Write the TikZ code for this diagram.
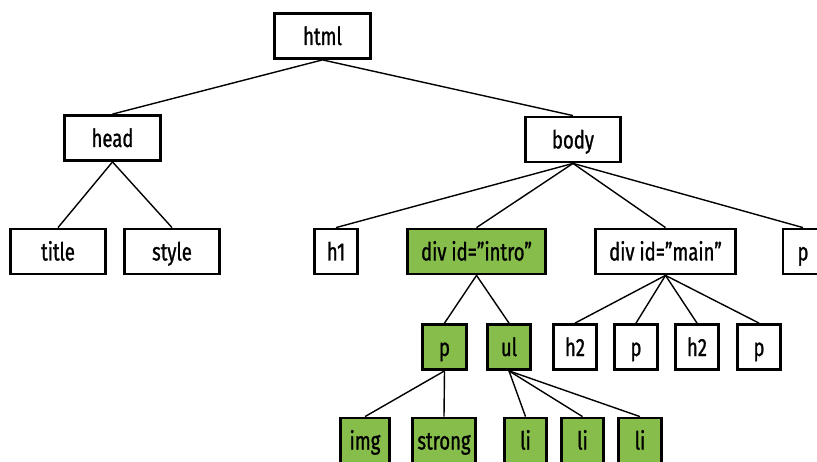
\documentclass[tikz,border=0pt]{standalone}
\usepackage{fontspec}
\setmainfont{Fira Sans}[FakeStretch=0.74, FakeBold=1]
\definecolor{leafgreen}{RGB}{134,189,75}
\begin{document}
\begin{tikzpicture}[x=1pt,y=-1pt,
  box/.style={draw=black, line width=2.8pt, fill=white, inner sep=0pt,
    minimum height=45pt, text height=19pt, text depth=1pt,
    font=\fontsize{25}{28}\selectfont},
  gbox/.style={box, fill=leafgreen},
  link/.style={line width=1.4pt}]
\useasboundingbox (0,0) rectangle (817,462);
\clip (0,0) rectangle (817,462);
\node[box, minimum width=96pt] (html) at (322.5,36) {html};
\node[box, minimum width=96pt] (head) at (112.5,138) {head};
\node[box, minimum width=95pt] (title) at (58,251.5) {title};
\node[box, minimum width=95pt] (style) at (172,251.5) {style};
\node[box, minimum width=95pt] (body) at (573,139.5) {body};
\node[box, minimum width=43pt] (h1) at (336,251.5) {h1};
\node[gbox, minimum width=138pt] (intro) at (476.5,251.5) {div id="intro"};
\node[box, minimum width=140pt] (main) at (665.5,251.5) {div id="main"};
\node[box, minimum width=40pt] (pr) at (803,251.5) {p};
\node[gbox, minimum width=44pt] (pg) at (444.5,347) {p};
\node[gbox, minimum width=43pt] (ul) at (509,347) {ul};
\node[box, minimum width=43pt] (h2a) at (575,347) {h2};
\node[box, minimum width=43pt] (pa) at (636,347) {p};
\node[box, minimum width=43pt] (h2b) at (697,347) {h2};
\node[box, minimum width=43pt] (pb) at (759,347) {p};
\node[gbox, minimum width=49pt] (img) at (365,440.5) {img};
\node[gbox, minimum width=63pt] (strong) at (444,440.5) {strong};
\node[gbox, minimum width=42pt] (li1) at (525.5,440.5) {li};
\node[gbox, minimum width=42pt] (li2) at (582.5,440.5) {li};
\node[gbox, minimum width=43pt] (li3) at (640,440.5) {li};
\begin{scope}[link]
\draw (html.south) -- (head.north);
\draw (html.south) -- (body.north);
\draw (head.south) -- (title.north);
\draw (head.south) -- (style.north);
\draw (body.south) -- (h1.north);
\draw (body.south) -- (intro.north);
\draw (body.south) -- (main.north);
\draw (body.south) -- (pr.north);
\draw (intro.south) -- (pg.north);
\draw (intro.south) -- (ul.north);
\draw (main.south) -- (h2a.north);
\draw (main.south) -- (pa.north);
\draw (main.south) -- (h2b.north);
\draw (main.south) -- (pb.north);
\draw (pg.south) -- (img.north);
\draw (pg.south) -- (strong.north);
\draw (ul.south) -- (li1.north);
\draw (ul.south) -- (li2.north);
\draw (ul.south) -- (li3.north);
\end{scope}
\end{tikzpicture}
\end{document}
